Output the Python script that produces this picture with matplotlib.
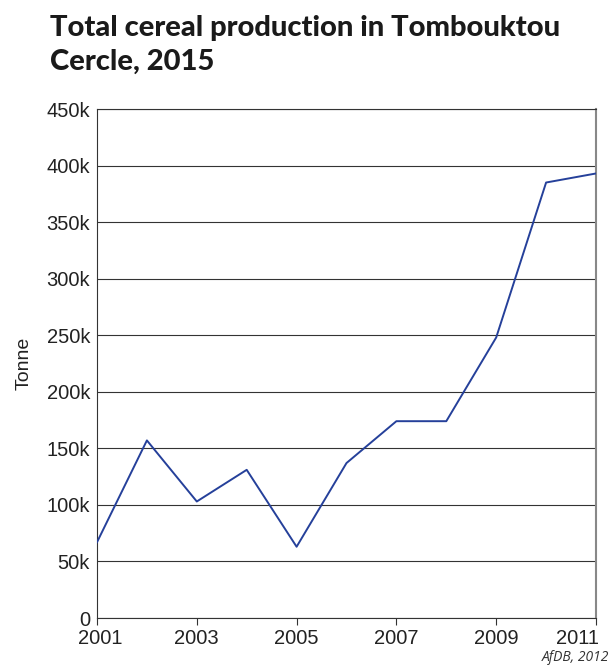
import matplotlib
matplotlib.use("Agg")
import matplotlib.pyplot as plt
from matplotlib.transforms import ScaledTranslation

years = [2001, 2002, 2003, 2004, 2005, 2006, 2007, 2008, 2009, 2010, 2011]
production = [67000, 157000, 103000, 131000, 63000, 137000, 174000, 174000, 248000, 385000, 393000]
y_ticks = [0, 50000, 100000, 150000, 200000, 250000, 300000, 350000, 400000, 450000]
y_labels = ["0", "50k", "100k", "150k", "200k", "250k", "300k", "350k", "400k", "450k"]
x_ticks = [2001, 2003, 2005, 2007, 2009, 2011]
title_lines = ["Total cereal production in Tombouktou", "Cercle, 2015"]

W, H = 609, 668
fig = plt.figure(figsize=(W/100, H/100), dpi=100)
ax = fig.add_axes([97/W, 50/H, (596-97)/W, (618-109)/H])

ax.plot(years, production, color="#25409a", linewidth=1.4, zorder=3)
ax.set_xlim(2001, 2011)
ax.set_ylim(0, 450000)
ax.set_yticks(y_ticks)
ax.set_yticklabels(y_labels, family="Liberation Sans", fontsize=14.5, color="#222222")
ax.set_xticks(x_ticks)
ax.set_xticklabels([str(x) for x in x_ticks], family="Liberation Sans", fontsize=14.5, color="#222222")
ax.tick_params(axis="y", length=0, pad=5)
ax.tick_params(axis="x", length=5, width=0.8, direction="out", pad=3, color="#333333")
lbls = ax.get_xticklabels()
lbls[-1].set_horizontalalignment("right")
lbls[-1].set_transform(lbls[-1].get_transform() + ScaledTranslation(3/100, 0, fig.dpi_scale_trans))
lbls[0].set_transform(lbls[0].get_transform() + ScaledTranslation(3/100, 0, fig.dpi_scale_trans))
ax.grid(axis="y", color="#333333", linewidth=0.8)
ax.set_axisbelow(True)
for s in ["left", "bottom", "top"]:
    ax.spines[s].set_color("#333333")
    ax.spines[s].set_linewidth(0.8)
ax.spines["right"].set_color("#888888")
ax.spines["right"].set_linewidth(1.5)

ax.set_ylabel("Tonne", family="Liberation Sans", fontsize=14, color="#222222", labelpad=10)

fig.text(50/W, 1 - 36/H, title_lines[0], family="Lato", fontweight="black",
         fontsize=21, color="#1a1a1a", va="baseline", ha="left")
fig.text(50/W, 1 - 70/H, title_lines[1], family="Lato", fontweight="black",
         fontsize=21, color="#1a1a1a", va="baseline", ha="left")
fig.text(609/W, 3/H, "AfDB, 2012", family="Open Sans", style="italic",
         fontsize=10, color="#333333", ha="right", va="bottom")

fig.savefig("out.png", dpi=100)
